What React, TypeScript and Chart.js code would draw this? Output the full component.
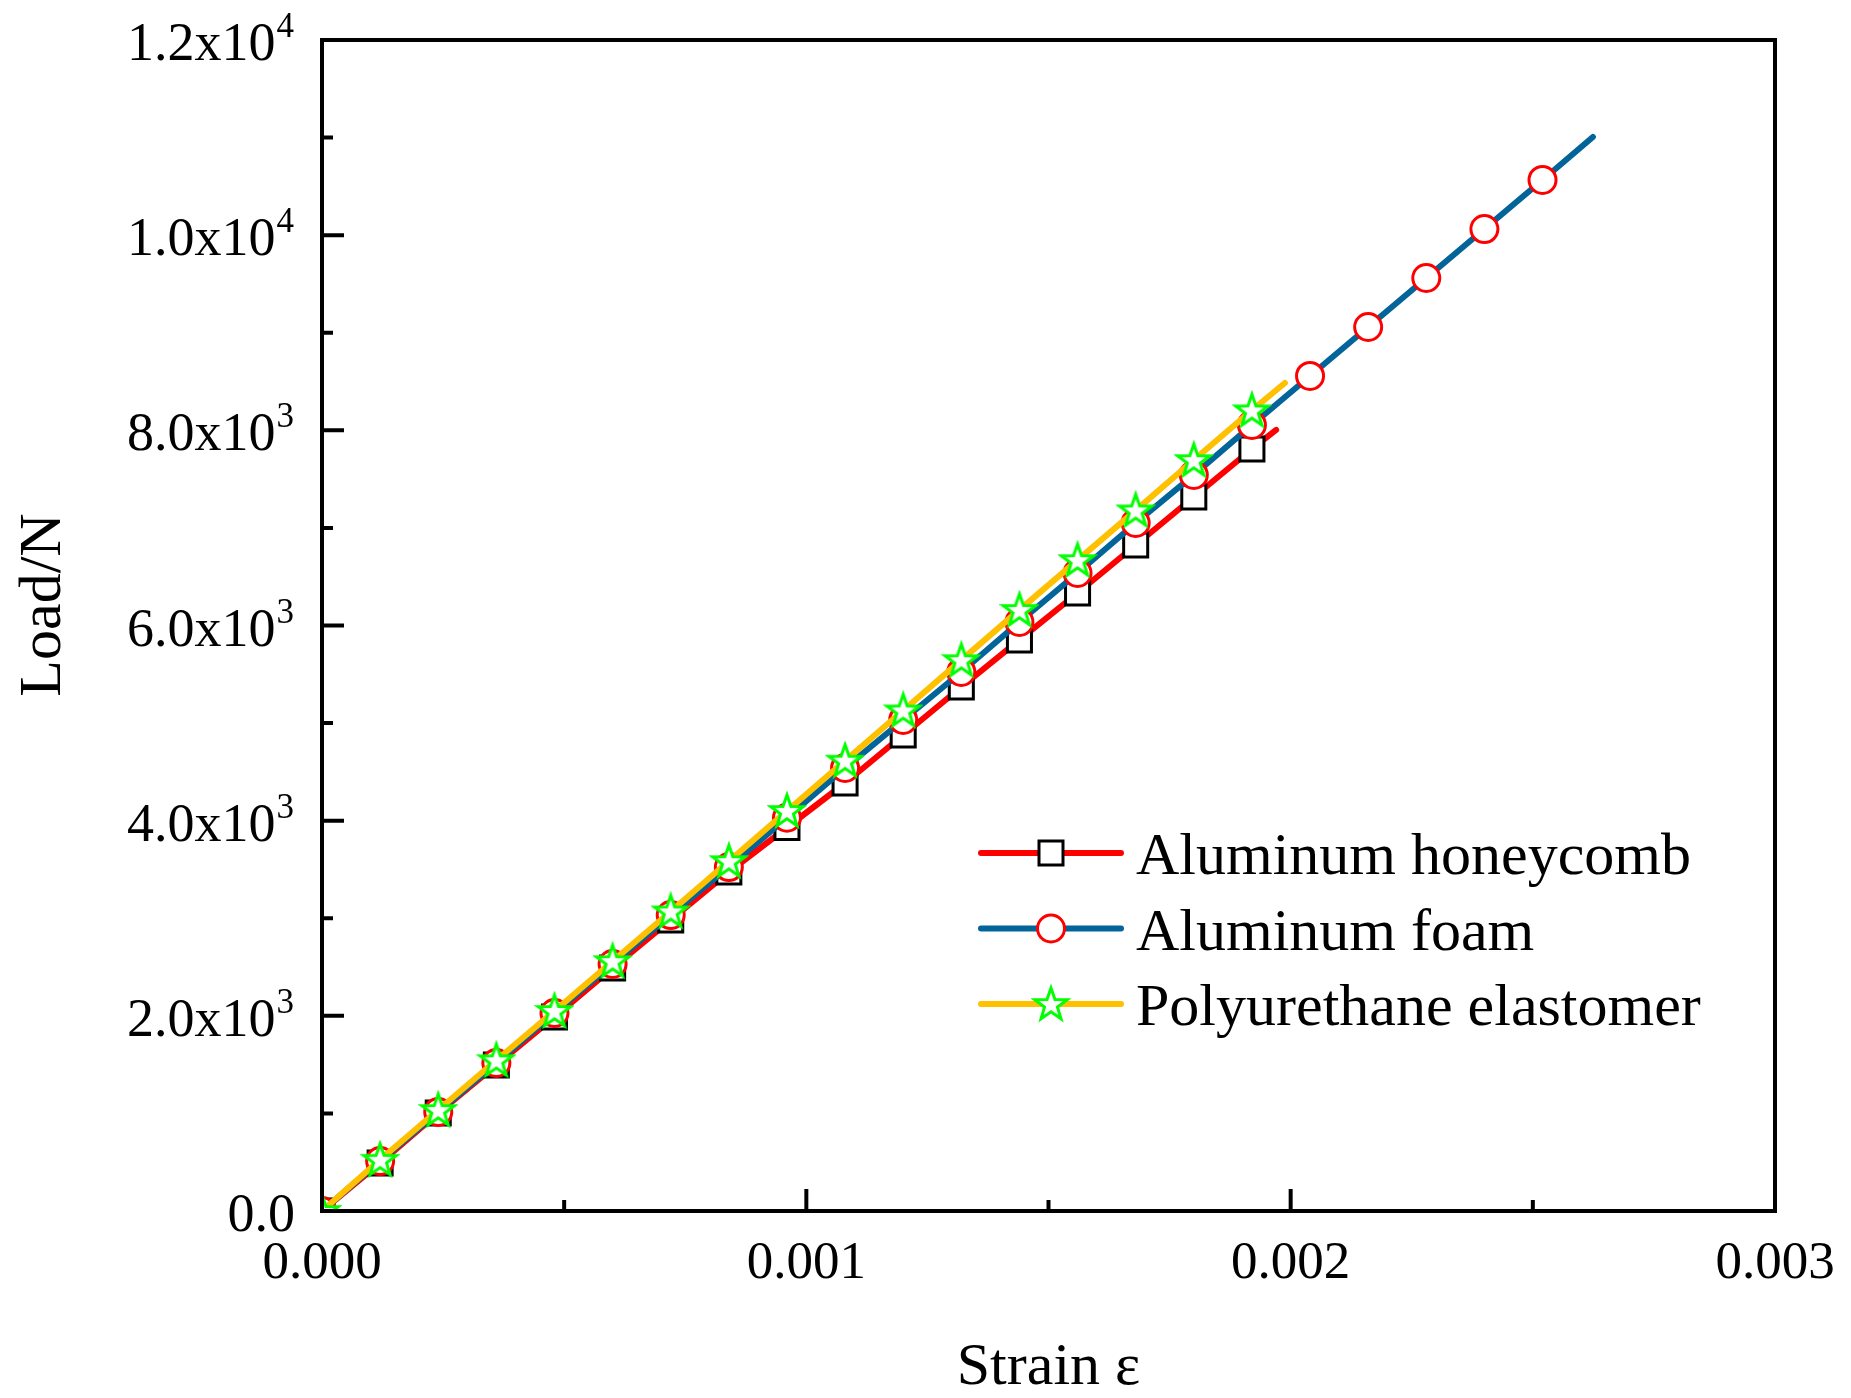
import React, { useEffect, useRef } from 'react';
import { Chart, registerables } from 'chart.js';
import type { ChartConfiguration, Plugin } from 'chart.js';

Chart.register(...registerables);

const FONT = '"Liberation Serif", "Times New Roman", serif';

// values
const honeycombStrain = [
  0, 0.00012, 0.00024, 0.00036, 0.00048, 0.0006, 0.00072, 0.00084, 0.00096,
  0.00108, 0.0012, 0.00132, 0.00144, 0.00156, 0.00168, 0.0018, 0.00192, 0.00197,
];
const honeycombLoad = [
  0, 492, 1004, 1496, 1988, 2490, 2982, 3474, 3930,
  4386, 4878, 5370, 5852, 6333, 6825, 7317, 7809, 8004,
];

const foamStrain = [
  0, 0.00012, 0.00024, 0.00036, 0.00048, 0.0006, 0.00072, 0.00084, 0.00096,
  0.00108, 0.0012, 0.00132, 0.00144, 0.00156, 0.00168, 0.0018, 0.00192,
  0.00204, 0.00216, 0.00228, 0.0024, 0.00252, 0.002624,
];
const foamLoad = [
  0, 512, 1015, 1517, 2029, 2531, 3033, 3525, 4030,
  4540, 5032, 5524, 6036, 6538, 7051, 7543, 8055,
  8557, 9059, 9561, 10063, 10566, 11006,
];

const puStrain = [
  0, 0.00012, 0.00024, 0.00036, 0.00048, 0.0006, 0.00072, 0.00084, 0.00096,
  0.00108, 0.0012, 0.00132, 0.00144, 0.00156, 0.00168, 0.0018, 0.00192, 0.001988,
];
const puLoad = [
  0, 525, 1035, 1545, 2050, 2560, 3070, 3585, 4100,
  4615, 5130, 5645, 6160, 6670, 7180, 7695, 8205, 8485,
];

const seriesLabels = ['Aluminum honeycomb', 'Aluminum foam', 'Polyurethane elastomer'];
const lineColors = ['#ff0000', '#03649a', '#ffc000'];

const xMajorTicks = [0, 0.001, 0.002, 0.003];
const xTickLabels = ['0.000', '0.001', '0.002', '0.003'];
const xMinorTicks = [0.0005, 0.0015, 0.0025];
const yMajorTicks = [0, 2000, 4000, 6000, 8000, 10000, 12000];
const yTickMantissa = ['0.0', '2.0x10', '4.0x10', '6.0x10', '8.0x10', '1.0x10', '1.2x10'];
const yTickExponent = ['', '3', '3', '3', '3', '4', '4'];
const yMinorTicks = [1000, 3000, 5000, 7000, 9000, 11000];

const toPoints = (xs: number[], ys: number[]) => xs.map((x, i) => ({ x, y: ys[i] }));

function makeStar(): HTMLCanvasElement {
  const c = document.createElement('canvas');
  c.width = 40;
  c.height = 40;
  const g = c.getContext('2d')!;
  const R = 17;
  const r = R * 0.4;
  g.beginPath();
  for (let i = 0; i < 10; i++) {
    const rad = i % 2 === 0 ? R : r;
    const a = -Math.PI / 2 + (i * Math.PI) / 5;
    const px = 20 + rad * Math.cos(a);
    const py = 21 + rad * Math.sin(a);
    if (i === 0) g.moveTo(px, py);
    else g.lineTo(px, py);
  }
  g.closePath();
  g.fillStyle = '#ffffff';
  g.fill();
  g.lineWidth = 3;
  g.lineJoin = 'miter';
  g.strokeStyle = '#00ff00';
  g.stroke();
  return c;
}

export default function App() {
  const canvasRef = useRef<HTMLCanvasElement | null>(null);

  useEffect(() => {
    document.body.style.margin = '0';
    const canvas = canvasRef.current;
    if (!canvas) return;
    const ctx = canvas.getContext('2d');
    if (!ctx) return;

    const star = makeStar();
    const hideLast = (n: number, r: number) => (c: any) => (c.dataIndex === n - 1 ? 0 : r);

    const axesPlugin: Plugin<'line'> = {
      id: 'originAxes',
      afterDraw(chart) {
        const g = chart.ctx;
        const { left, right, top, bottom } = chart.chartArea;
        const xs = chart.scales.x;
        const ys = chart.scales.y;
        g.save();
        g.strokeStyle = '#000';
        g.lineWidth = 4;
        g.lineCap = 'butt';
        g.strokeRect(left, top, right - left, bottom - top);

        g.beginPath();
        xMajorTicks.forEach((v) => {
          const px = xs.getPixelForValue(v);
          g.moveTo(px, bottom);
          g.lineTo(px, bottom - 22);
        });
        xMinorTicks.forEach((v) => {
          const px = xs.getPixelForValue(v);
          g.moveTo(px, bottom);
          g.lineTo(px, bottom - 11);
        });
        yMajorTicks.forEach((v) => {
          const py = ys.getPixelForValue(v);
          g.moveTo(left, py);
          g.lineTo(left + 22, py);
        });
        yMinorTicks.forEach((v) => {
          const py = ys.getPixelForValue(v);
          g.moveTo(left, py);
          g.lineTo(left + 11, py);
        });
        g.stroke();

        g.fillStyle = '#000';
        g.font = `53px ${FONT}`;
        g.textAlign = 'center';
        g.textBaseline = 'alphabetic';
        xMajorTicks.forEach((v, i) => {
          g.fillText(xTickLabels[i], xs.getPixelForValue(v), bottom + 67);
        });

        g.textAlign = 'right';
        yMajorTicks.forEach((v, i) => {
          const py = ys.getPixelForValue(v);
          const base = py + 20;
          let rx = left - 28;
          if (yTickExponent[i]) {
            g.font = `35px ${FONT}`;
            g.fillText(yTickExponent[i], rx, base - 23);
            rx -= g.measureText(yTickExponent[i]).width + 1;
          } else {
            rx += 1;
          }
          g.font = `54px ${FONT}`;
          g.fillText(yTickMantissa[i], rx, base);
        });

        g.font = `60px ${FONT}`;
        g.textAlign = 'center';
        g.fillText('Strain ε', (left + right) / 2, 1384);
        g.save();
        g.translate(60, 605);
        g.rotate(-Math.PI / 2);
        g.fillText('Load/N', 0, 0);
        g.restore();

        // legend
        seriesLabels.forEach((label, i) => {
          const y = 853 + i * 75.5;
          g.beginPath();
          g.lineCap = 'round';
          g.lineWidth = 6;
          g.strokeStyle = lineColors[i];
          g.moveTo(981, y);
          g.lineTo(1121, y);
          g.stroke();
          const mx = 1051;
          if (i === 0) {
            g.fillStyle = '#fff';
            g.fillRect(mx - 12, y - 12, 24, 24);
            g.lineWidth = 3;
            g.strokeStyle = '#000';
            g.strokeRect(mx - 12, y - 12, 24, 24);
          } else if (i === 1) {
            g.beginPath();
            g.arc(mx, y, 13.5, 0, Math.PI * 2);
            g.fillStyle = '#fff';
            g.fill();
            g.lineWidth = 3;
            g.strokeStyle = '#ff0000';
            g.stroke();
          } else {
            g.drawImage(star, mx - 20, y - 20);
          }
          g.fillStyle = '#000';
          g.font = `60px ${FONT}`;
          g.textAlign = 'left';
          g.fillText(label, 1136, y + 21);
        });
        g.restore();
      },
    };

    const config: ChartConfiguration<'line'> = {
      type: 'line',
      data: {
        datasets: [
          {
            label: seriesLabels[0],
            data: toPoints(honeycombStrain, honeycombLoad),
            borderColor: lineColors[0],
            borderWidth: 6,
            pointStyle: 'rect',
            pointRadius: hideLast(honeycombStrain.length, 17),
            pointBackgroundColor: '#ffffff',
            pointBorderColor: '#000000',
            pointBorderWidth: 3,
            order: 3,
            clip: 0,
          },
          {
            label: seriesLabels[1],
            data: toPoints(foamStrain, foamLoad),
            borderColor: lineColors[1],
            borderWidth: 6,
            pointStyle: 'circle',
            pointRadius: hideLast(foamStrain.length, 13.5),
            pointBackgroundColor: '#ffffff',
            pointBorderColor: '#ff0000',
            pointBorderWidth: 3,
            order: 2,
            clip: 0,
          },
          {
            label: seriesLabels[2],
            data: toPoints(puStrain, puLoad),
            borderColor: lineColors[2],
            borderWidth: 6,
            pointStyle: star,
            pointRadius: hideLast(puStrain.length, 10),
            order: 1,
            clip: 0,
          },
        ],
      },
      options: {
        animation: false,
        responsive: true,
        maintainAspectRatio: false,
        events: [],
        layout: { padding: { top: 40, right: 76, left: 0, bottom: 0 } },
        elements: {
          line: { tension: 0, borderCapStyle: 'round', borderJoinStyle: 'round' },
        },
        plugins: {
          legend: { display: false },
          tooltip: { enabled: false },
        },
        scales: {
          x: {
            type: 'linear',
            min: 0,
            max: 0.003,
            ticks: { display: false },
            grid: { display: false, drawTicks: false },
            border: { display: false },
            afterFit: (s) => {
              s.height = 187;
            },
          },
          y: {
            type: 'linear',
            min: 0,
            max: 12000,
            ticks: { display: false },
            grid: { display: false, drawTicks: false },
            border: { display: false },
            afterFit: (s) => {
              s.width = 322;
            },
          },
        },
      },
      plugins: [axesPlugin],
    };

    const chart = new Chart(ctx, config);
    return () => chart.destroy();
  }, []);

  return (
    <div style={{ width: 1851, height: 1398, position: 'relative', background: '#fff' }}>
      <canvas ref={canvasRef} />
    </div>
  );
}
